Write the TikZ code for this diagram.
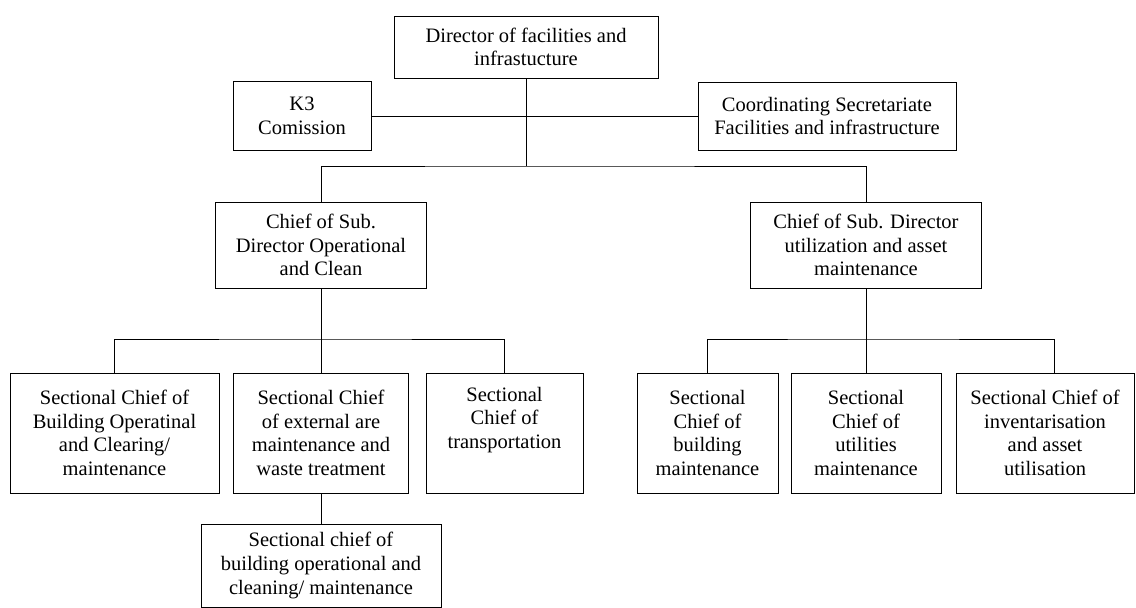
\documentclass[tikz,border=0pt]{standalone}
\usepackage{fontspec}
\setmainfont{Liberation Serif}
\begin{document}
\begin{tikzpicture}[x=1pt,y=-1pt,
  orgbox/.style={draw, line width=1pt, rectangle, inner sep=0pt, outer sep=0pt,
    align=center, font=\fontsize{20.5}{23.6}\selectfont},
  link/.style={line width=1pt}]
\useasboundingbox (0,0) rectangle (1136,608);

% top level
\node[orgbox, minimum width=264, minimum height=62] (dir) at (526,47)
  {Director of facilities and\\infrastucture};
\node[orgbox, minimum width=138, minimum height=69] (k3) at (302,116)
  {K3\\Comission};
\node[orgbox, minimum width=258, minimum height=68] (coord) at (827,116)
  {Coordinating Secretariate\\Facilities and infrastructure};

% sub-directors
\node[orgbox, minimum width=211, minimum height=86] (chiefL) at (321,245)
  {Chief of Sub.\\Director Operational\\and Clean};
\node[orgbox, minimum width=231, minimum height=86] (chiefR) at (866,245)
  {Chief of Sub. Director\\utilization and asset\\maintenance};

% sections under operational and clean
\node[orgbox, minimum width=209, minimum height=120] (s1) at (114.5,433)
  {Sectional Chief of\\Building Operatinal\\and Clearing/\\maintenance};
\node[orgbox, minimum width=175, minimum height=120] (s2) at (321,433)
  {Sectional Chief\\of external are\\maintenance and\\waste treatment};
\node[orgbox, minimum width=157, minimum height=120] (s3) at (504.5,433)
  {Sectional\\Chief of\\transportation\\\strut};
\node[orgbox, minimum width=240, minimum height=83] (s4) at (321,565.5)
  {Sectional chief of\\building operational and\\cleaning/ maintenance};

% sections under utilization and asset maintenance
\node[orgbox, minimum width=141, minimum height=120] (sA) at (707.5,433)
  {Sectional\\Chief of\\building\\maintenance};
\node[orgbox, minimum width=150, minimum height=120] (sB) at (866,433)
  {Sectional\\Chief of\\utilities\\maintenance};
\node[orgbox, minimum width=178, minimum height=120] (sC) at (1045,433)
  {Sectional Chief of\\inventarisation\\and asset\\utilisation};

% bus junctions
\coordinate (busTop) at (526,166);
\coordinate (busL) at (321,339);
\coordinate (busR) at (866,339);

% connectors
\draw[link] (dir.south) -- (busTop);
\draw[link] (k3.east) -- (coord.west);
\draw[link] (chiefL.north) |- (busTop) -| (chiefR.north);

\draw[link] (chiefL.south) -- (busL);
\draw[link] (s1.north) |- (busL) -| (s3.north);
\draw[link] (busL) -- (s2.north);
\draw[link] (s2.south) -- (s4.north);

\draw[link] (chiefR.south) -- (busR);
\draw[link] (sA.north) |- (busR) -| ([xshift=9pt]sC.north);
\draw[link] (busR) -- (sB.north);
\end{tikzpicture}
\end{document}
